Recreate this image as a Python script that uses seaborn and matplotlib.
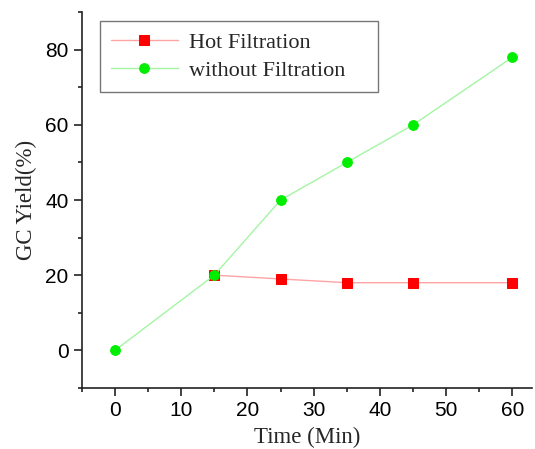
import matplotlib
matplotlib.use("Agg")
import matplotlib.pyplot as plt
import seaborn as sns
from matplotlib.ticker import MultipleLocator

# Daten
hot_time = [15, 25, 35, 45, 60]
hot_yield = [20, 19, 18, 18, 18]
wo_time = [0, 15, 25, 35, 45, 60]
wo_yield = [0, 20, 40, 50, 60, 78]

sns.set_style("ticks")

fig = plt.figure(figsize=(5.35, 4.49), dpi=100)
ax = fig.add_axes([0.153, 0.136, 0.842, 0.837])

sns.lineplot(x=hot_time, y=hot_yield, ax=ax, color="#ffa4a4", linewidth=1,
             marker="s", markersize=6.5, markerfacecolor="#ff0000",
             markeredgecolor="#ff0000", label="Hot Filtration")
sns.lineplot(x=wo_time, y=wo_yield, ax=ax, color="#a4f5a4", linewidth=1,
             marker="o", markersize=7, markerfacecolor="#00ee00",
             markeredgecolor="#00ee00", label="without Filtration")

ax.set_xlim(-5, 63)
ax.set_ylim(-10, 90)
ax.xaxis.set_major_locator(MultipleLocator(10))
ax.xaxis.set_minor_locator(MultipleLocator(5))
ax.yaxis.set_major_locator(MultipleLocator(20))
ax.yaxis.set_minor_locator(MultipleLocator(10))

for s in ["top", "right"]:
    ax.spines[s].set_visible(False)
for s in ["left", "bottom"]:
    ax.spines[s].set_linewidth(1.2)
    ax.spines[s].set_color("#222222")

ax.tick_params(which="major", direction="out", length=6, width=1.2,
               labelsize=15, colors="#222222", labelcolor="black")
ax.tick_params(which="minor", direction="out", length=3, width=1.2, colors="#222222")
for lbl in ax.get_xticklabels() + ax.get_yticklabels():
    lbl.set_family("Liberation Sans")

ax.set_xlabel("Time (Min)", family="Liberation Serif", fontsize=16.5, labelpad=5)
ax.set_ylabel("GC Yield(%)", family="Liberation Serif", fontsize=16.5, labelpad=6)

leg = ax.legend(loc="upper left", bbox_to_anchor=(0.04, 0.776, 0.618, 0.2),
                mode="expand", fancybox=False,
                prop={"family": "Liberation Serif", "size": 16},
                handlelength=3.0, handletextpad=0.5, borderpad=0.5,
                labelspacing=0.35, borderaxespad=0, framealpha=1)
leg.get_frame().set_edgecolor("#777777")
leg.get_frame().set_linewidth(1)

plt.savefig("out.png", dpi=100)
